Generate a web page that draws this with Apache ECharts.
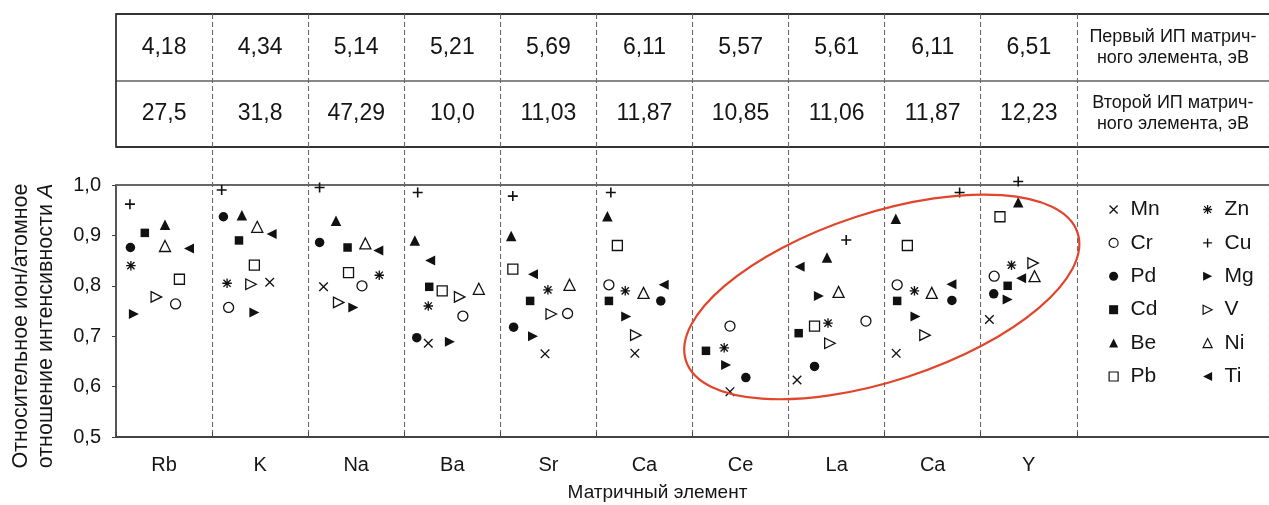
<!DOCTYPE html>
<html>
<head>
<meta charset="utf-8">
<script src="https://cdn.jsdelivr.net/npm/echarts@6/dist/echarts.min.js"></script>
<style>html,body{margin:0;padding:0;background:#fff}#c{width:1269px;height:505px}</style>
</head>
<body>
<div id="c"></div>
<script>
// ---------------- DATA ----------------
const categories = ['Rb', 'K', 'Na', 'Ba', 'Sr', 'Ca', 'Ce', 'La', 'Ca', 'Y'];
const ip1 = ['4,18', '4,34', '5,14', '5,21', '5,69', '6,11', '5,57', '5,61', '6,11', '6,51'];
const ip2 = ['27,5', '31,8', '47,29', '10,0', '11,03', '11,87', '10,85', '11,06', '11,87', '12,23'];
const ipRowLabels = ['Первый ИП матрич-\nного элемента, эВ', 'Второй ИП матрич-\nного элемента, эВ'];
const yMin = 0.5, yMax = 1.0, yStep = 0.1;

// values per matrix element (null = not measured) and position of the mark inside its column (0..1)
const valMn = [null, 0.807, 0.798, 0.686, 0.665, 0.666, 0.590, 0.613, 0.666, 0.733];
const posMn = [null, 0.60, 0.16, 0.25, 0.465, 0.40, 0.39, 0.088, 0.12, 0.09];
const valCr = [0.764, 0.757, 0.800, 0.740, 0.745, 0.802, 0.720, 0.730, 0.802, 0.819];
const posCr = [0.62, 0.172, 0.56, 0.61, 0.70, 0.13, 0.39, 0.805, 0.13, 0.14];
const valPd = [0.876, 0.937, 0.886, 0.697, 0.718, 0.770, 0.618, 0.640, 0.771, 0.784];
const posPd = [0.15, 0.118, 0.119, 0.13, 0.138, 0.67, 0.555, 0.27, 0.70, 0.135];
const valCd = [0.905, 0.890, 0.876, 0.798, 0.770, 0.770, 0.671, 0.706, 0.770, 0.800];
const posCd = [0.30, 0.28, 0.41, 0.26, 0.31, 0.13, 0.14, 0.105, 0.13, 0.28];
const valBe = [0.921, 0.940, 0.929, 0.890, 0.899, 0.938, null, 0.856, 0.933, 0.966];
const posBe = [0.51, 0.31, 0.29, 0.11, 0.113, 0.114, null, 0.40, 0.116, 0.39];
const valPb = [0.813, 0.841, 0.826, 0.790, 0.833, 0.880, null, 0.720, 0.880, 0.937];
const posPb = [0.66, 0.44, 0.42, 0.395, 0.13, 0.218, null, 0.27, 0.236, 0.20];
const valZn = [0.840, 0.805, 0.821, 0.760, 0.792, 0.790, 0.677, 0.726, 0.790, 0.841];
const posZn = [0.155, 0.156, 0.74, 0.25, 0.495, 0.30, 0.33, 0.41, 0.31, 0.32];
const valCu = [0.962, 0.990, 0.995, 0.985, 0.978, 0.985, null, 0.891, 0.985, 1.007];
const posCu = [0.145, 0.10, 0.119, 0.14, 0.13, 0.15, null, 0.60, 0.78, 0.39];
const valMg = [0.744, 0.747, 0.757, 0.689, 0.700, 0.739, 0.643, 0.780, 0.739, 0.773];
const posMg = [0.186, 0.44, 0.47, 0.475, 0.34, 0.31, 0.35, 0.315, 0.32, 0.28];
const valV  = [0.778, 0.803, 0.767, 0.778, 0.744, 0.702, null, 0.686, 0.702, 0.845];
const posV  = [0.42, 0.405, 0.318, 0.577, 0.53, 0.41, null, 0.43, 0.42, 0.545];
const valNi = [0.879, 0.917, 0.884, 0.794, 0.802, 0.786, null, 0.788, 0.786, 0.819];
const posNi = [0.51, 0.47, 0.595, 0.776, 0.72, 0.49, null, 0.52, 0.49, 0.56];
const valTi = [0.874, 0.903, 0.870, 0.850, 0.823, 0.802, null, 0.838, 0.803, 0.815];
const posTi = [0.76, 0.62, 0.73, 0.27, 0.34, 0.70, null, 0.115, 0.695, 0.42];

// ---------------- STYLE ----------------
const FONT = '"Liberation Sans", Arial, sans-serif';
const INK = '#151515';
const MARK = '#111';
const X_PATH = 'path://M1,0L5,4L9,0L10,1L6,5L10,9L9,10L5,6L1,10L0,9L4,5L0,1Z';
const PLUS_PATH = 'path://M4.2,0h1.6v4.2h4.2v1.6h-4.2v4.2h-1.6v-4.2h-4.2v-1.6h4.2z';
const STAR_PATH = 'path://M4.3,0h1.4v10h-1.4z M0,4.3h10v1.4h-10z M0.7,1.7L1.7,0.7L9.3,8.3L8.3,9.3Z M8.3,0.7L9.3,1.7L1.7,9.3L0.7,8.3Z';
const RTRI = 'path://M0,0L10,5L0,10Z';
const LTRI = 'path://M10,0L0,5L10,10Z';

const seriesDefs = [
  {name: 'Mn', val: valMn, pos: posMn, symbol: X_PATH, size: 9.5, open: false},
  {name: 'Cr', val: valCr, pos: posCr, symbol: 'circle', size: 10, open: true},
  {name: 'Pd', val: valPd, pos: posPd, symbol: 'circle', size: 9.5, open: false},
  {name: 'Cd', val: valCd, pos: posCd, symbol: 'rect', size: 8.5, open: false},
  {name: 'Be', val: valBe, pos: posBe, symbol: 'triangle', size: 10.5, open: false},
  {name: 'Pb', val: valPb, pos: posPb, symbol: 'rect', size: 10, open: true},
  {name: 'Zn', val: valZn, pos: posZn, symbol: STAR_PATH, size: 9.5, open: false},
  {name: 'Cu', val: valCu, pos: posCu, symbol: PLUS_PATH, size: 10, open: false},
  {name: 'Mg', val: valMg, pos: posMg, symbol: RTRI, size: 10, open: false},
  {name: 'V',  val: valV,  pos: posV,  symbol: RTRI, size: 10.5, open: true},
  {name: 'Ni', val: valNi, pos: posNi, symbol: 'triangle', size: 11, open: true},
  {name: 'Ti', val: valTi, pos: posTi, symbol: LTRI, size: 10, open: false}
];

const nCols = categories.length + 2;            // 10 element columns + 2-wide side panel
const catAxisData = categories.concat(['', '']);
const GRID_LEFT = 116, COL_W = 96.6;

function pts(vals, pos) {
  const out = [];
  vals.forEach((v, i) => { if (v !== null) out.push([i + pos[i], v]); });
  return out;
}

const tableData = [];
ip1.forEach((t, i) => tableData.push({value: [i + 0.5, 1.5], txt: t}));
ip2.forEach((t, i) => tableData.push({value: [i + 0.5, 0.5], txt: t}));
const rowLabelData = [
  {value: [categories.length + 1, 1.5], txt: ipRowLabels[0]},
  {value: [categories.length + 1, 0.5], txt: ipRowLabels[1]}
];

const chart = echarts.init(document.getElementById('c'), null, {renderer: 'canvas'});

const markSeries = seriesDefs.map(d => ({
  type: 'scatter', name: d.name, xAxisIndex: 3, yAxisIndex: 2,
  data: pts(d.val, d.pos), symbol: d.symbol, symbolSize: d.size, clip: false,
  itemStyle: d.open ? {color: '#fff', borderColor: MARK, borderWidth: 1.3, opacity: 1}
                    : {color: MARK, borderWidth: 0, opacity: 1},
  emphasis: {disabled: true}, z: 5
}));

function legendData(list) {
  return list.map(d => ({name: d.name,
    itemStyle: d.open ? {color: '#fff', borderColor: MARK, borderWidth: 1.2} : {color: MARK, borderWidth: 0}}));
}

const legendCommon = {
  orient: 'vertical', top: 199, padding: 0, itemWidth: 9, itemHeight: 9, itemGap: 12.4, selectedMode: false,
  textStyle: {fontSize: 21, lineHeight: 21, color: INK, fontFamily: FONT, padding: [0, 0, 0, 7.5]}
};

const option = {
  animation: false,
  backgroundColor: '#fff',
  textStyle: {fontFamily: FONT, color: INK},
  grid: [
    {left: GRID_LEFT, top: 14, width: COL_W * nCols, height: 423},   // frame (column separators)
    {left: GRID_LEFT, top: 14, width: COL_W * nCols, height: 133},   // ionisation-potential table
    {left: GRID_LEFT, top: 185, width: COL_W * nCols, height: 252}   // plot
  ],
  xAxis: [
    {gridIndex: 0, type: 'category', data: catAxisData, axisLine: {show: false}, axisTick: {show: false},
     axisLabel: {show: false},
     splitLine: {show: true, interval: (i) => i >= 1 && i <= categories.length,
       lineStyle: {color: '#6a6a6a', width: 1.1, type: [5, 3]}}},
    {gridIndex: 1, type: 'value', min: 0, max: nCols, show: false},
    {gridIndex: 2, type: 'category', data: catAxisData, position: 'bottom',
     axisLine: {show: true, onZero: false, lineStyle: {color: '#444', width: 1.8}},
     axisTick: {show: true, inside: true, length: 5, interval: (i) => i <= categories.length,
       lineStyle: {color: '#444', width: 1}},
     axisLabel: {interval: 0, fontSize: 20, color: INK, fontFamily: FONT, margin: 18},
     splitLine: {show: false},
     name: 'Матричный элемент', nameLocation: 'middle', nameGap: 46,
     nameTextStyle: {fontSize: 19, color: INK, fontFamily: FONT, padding: [0, 70, 0, 0]}},
    {gridIndex: 2, type: 'value', min: 0, max: nCols, position: 'top',
     axisLine: {show: true, onZero: false, lineStyle: {color: '#666', width: 1.8}},
     axisTick: {show: false}, axisLabel: {show: false}, splitLine: {show: false}}
  ],
  yAxis: [
    {gridIndex: 0, type: 'value', show: false},
    {gridIndex: 1, type: 'value', min: 0, max: 2, interval: 1,
     axisLine: {show: true, lineStyle: {color: '#333', width: 1.8}},
     axisTick: {show: false}, axisLabel: {show: false},
     splitLine: {show: true, lineStyle: {color: ['#333', '#888', '#333'], width: 1.8}}},
    {gridIndex: 2, type: 'value', min: yMin, max: yMax, interval: yStep,
     axisLine: {show: true, onZero: false, lineStyle: {color: '#444', width: 1.8}},
     axisTick: {show: true, inside: false, length: 4, lineStyle: {color: '#444', width: 1}},
     axisLabel: {fontSize: 20, color: INK, fontFamily: FONT, margin: 15,
       formatter: v => v.toFixed(1).replace('.', ',')},
     splitLine: {show: false},
     name: 'Относительное ион/атомное\nотношение интенсивности {i|A}',
     nameLocation: 'middle', nameGap: 57,
     nameTextStyle: {fontSize: 21.5, lineHeight: 25, color: INK, fontFamily: FONT, padding: [0, 30, 0, 0],
       rich: {i: {fontStyle: 'italic', fontSize: 21.5, lineHeight: 25, fontFamily: FONT, color: INK}}}}
  ],
  legend: [
    Object.assign({data: legendData(seriesDefs.slice(0, 6)), left: 1108.5}, legendCommon),
    Object.assign({data: legendData(seriesDefs.slice(6)), left: 1202.5}, legendCommon)
  ],
  series: [
    {type: 'scatter', xAxisIndex: 1, yAxisIndex: 1, data: tableData, symbolSize: 1, silent: true,
     itemStyle: {color: 'rgba(255,255,255,0)'},
     label: {show: true, position: 'inside', formatter: p => p.data.txt, fontSize: 23, color: INK,
       fontFamily: FONT, textBorderWidth: 0, opacity: 1}},
    {type: 'scatter', xAxisIndex: 1, yAxisIndex: 1, data: rowLabelData, symbolSize: 1, silent: true,
     itemStyle: {color: 'rgba(255,255,255,0)'},
     label: {show: true, position: 'inside', formatter: p => p.data.txt, fontSize: 18, lineHeight: 21,
       align: 'center', color: INK, fontFamily: FONT, textBorderWidth: 0, opacity: 1}}
  ].concat(markSeries)
};

chart.setOption(option);

// red ellipse outlining the Ce–Y group (placed through the plot's scales)
const ellipseCenter = [7.97, 0.778];
const c = chart.convertToPixel({xAxisIndex: 3, yAxisIndex: 2}, ellipseCenter);
chart.setOption({
  graphic: [{
    type: 'ellipse', x: c[0], y: c[1], rotation: 18.1 * Math.PI / 180,
    shape: {cx: 0, cy: 0, rx: 206, ry: 84},
    style: {fill: 'none', stroke: '#e1452c', lineWidth: 2.2},
    silent: true, z: 20
  }]
});
</script>
</body>
</html>
